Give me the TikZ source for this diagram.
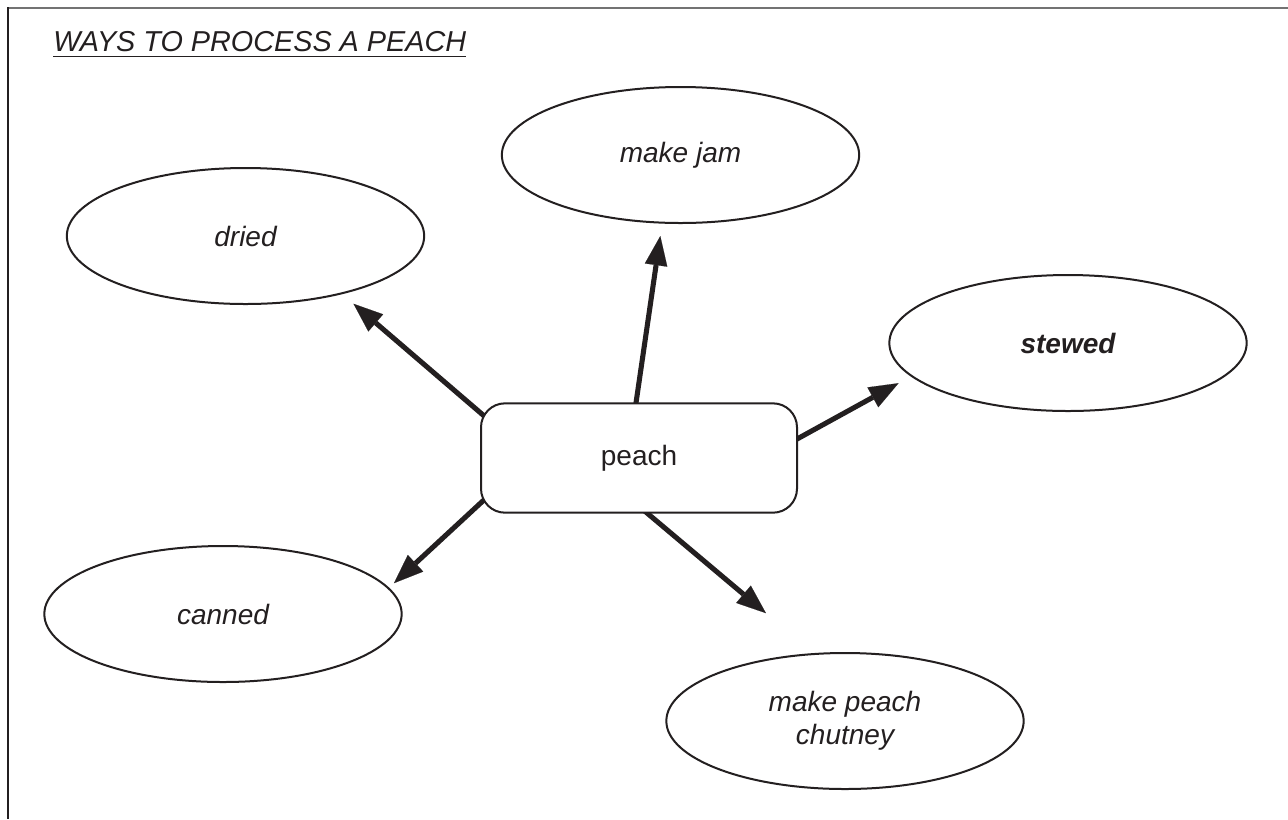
\documentclass[tikz,border=0pt]{standalone}
\usepackage{fontspec}
\setmainfont{Liberation Sans}
\usetikzlibrary{arrows.meta,shapes.geometric,backgrounds}
\definecolor{ink}{HTML}{231F20}
\begin{document}
\begin{tikzpicture}[x=0.75pt,y=-0.75pt,
  txt/.style={font=\fontsize{21}{25}\selectfont},
  option/.style={ellipse,draw=ink,line width=1.5pt,fill=white,text=ink,minimum width=268pt,
    minimum height=102pt,inner sep=0pt,align=center,
    font=\fontsize{21}{25}\selectfont\itshape},
  centre/.style={rectangle,rounded corners=18pt,draw=ink,line width=1.5pt,fill=white,text=ink,
    minimum width=237pt,minimum height=82pt,txt},
  link/.style={color=ink,line width=3.8pt,
    -{Triangle[length=22pt,width=17pt,line width=0.1pt,fill=ink]},shorten <=-12pt}]
\useasboundingbox (0,0) rectangle (1288,819);

% frame
\draw[black!55,line width=1.5pt] (7,7.5) -- (1288,7.5);
\draw[ink,line width=1.5pt] (7.5,7) -- (7.5,819);

% title
\node[anchor=base west,inner sep=0pt,text=ink,font=\fontsize{21.6}{26}\selectfont\itshape] (title) at (53,51) {WAYS TO PROCESS A PEACH};
\draw[ink,line width=1.2pt] ([yshift=-4pt]title.base west) -- ([yshift=-4pt]title.base east);

% nodes
\node[centre] (peach) at (639,458) {peach};
\node[option] (jam) at (680.5,155) {make jam};
\node[option] (dried) at (245.5,236) {dried};
\node[option,font=\fontsize{21}{25}\selectfont\bfseries\itshape] (stewed) at (1068,343) {stewed};
\node[option] (canned) at (223,614) {canned};
\node[option] (chutney) at (845,721) {make peach\\chutney};

% connectors, tucked under the centre box
\begin{pgfonlayer}{background}
\fill[white] (0,0) rectangle (1288,819);
\draw[link,shorten >=11.1pt] (peach.164.4) -- (dried.-31.6);
\draw[link,shorten >=9.4pt] (peach.93.1) -- (jam.-105.2);
\draw[link,shorten >=10.5pt] (peach.7.1) -- (stewed.-168.2);
\draw[link,shorten >=5pt] (peach.-164.9) -- (canned.9.9);
\draw[link,shorten >=46.5pt] (peach.-81) -- (chutney.115.1);
\end{pgfonlayer}
\end{tikzpicture}
\end{document}
